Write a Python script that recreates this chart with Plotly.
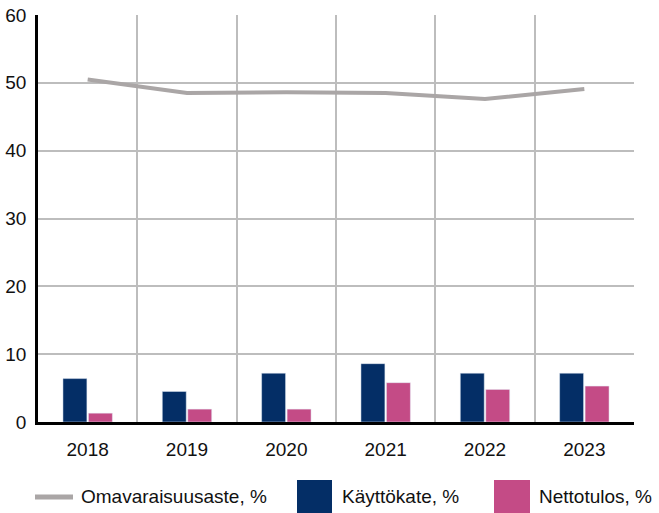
import plotly.graph_objects as go

years = ["2018", "2019", "2020", "2021", "2022", "2023"]
omavaraisuusaste = [50.5, 48.5, 48.6, 48.5, 47.6, 49.1]
kayttokate = [6.4, 4.5, 7.2, 8.6, 7.2, 7.2]
nettotulos = [1.3, 1.9, 1.9, 5.8, 4.8, 5.3]

names = ["Omavaraisuusaste, %", "Käyttökate, %", "Nettotulos, %"]
c_line = "#aaa6a6"
c_k = "#042e66"
c_n = "#c44b86"
FONT = "Liberation Sans Narrow, Liberation Sans, Arial, sans-serif"

W, H = 659, 513
L, R, T, B = 38, 25, 15, 91
PW, PH = W - L - R, H - T - B

def px(x):  # window pixel -> paper x
    return (x - L) / PW

def py(y):  # window pixel -> paper y
    return (H - B - y) / PH

fig = go.Figure()
fig.add_trace(go.Bar(x=years, y=kayttokate, name=names[1], marker_color=c_k, showlegend=False))
fig.add_trace(go.Bar(x=years, y=nettotulos, name=names[2], marker_color=c_n, showlegend=False))
fig.add_trace(go.Scatter(x=years, y=omavaraisuusaste, name=names[0], mode="lines",
                         line=dict(color=c_line, width=4), showlegend=False))

fig.update_layout(
    width=W, height=H,
    margin=dict(l=L, r=R, t=T, b=B),
    plot_bgcolor="white", paper_bgcolor="white",
    barmode="group", bargap=0.487, bargroupgap=0.06,
    font=dict(family=FONT, size=19, color="#111111"),
)
fig.update_xaxes(type="category", range=[-0.5, 5.5], tickson="boundaries",
                 showgrid=True, gridcolor="#bdbdbd", gridwidth=1.5,
                 showline=True, linecolor="black", linewidth=2.5,
                 ticks="", ticklabelstandoff=8, automargin=False)
fig.update_yaxes(range=[0, 60], dtick=10, showgrid=True, gridcolor="#bdbdbd", gridwidth=1.5,
                 showline=True, linecolor="black", linewidth=2.5, zeroline=False,
                 ticks="", ticklabelstandoff=5, automargin=False)

# legend drawn manually (window pixel positions converted to paper coords)
ly = 497
fig.add_shape(type="line", xref="paper", yref="paper", x0=px(35), x1=px(73), y0=py(ly), y1=py(ly),
              line=dict(color=c_line, width=5))
fig.add_shape(type="rect", xref="paper", yref="paper", x0=px(297), x1=px(332), y0=py(514), y1=py(480),
              fillcolor=c_k, line=dict(width=0))
fig.add_shape(type="rect", xref="paper", yref="paper", x0=px(494), x1=px(530), y0=py(514), y1=py(480),
              fillcolor=c_n, line=dict(width=0))
for xpos, txt in [(79, names[0]), (340, names[1]), (537, names[2])]:
    fig.add_annotation(x=px(xpos), y=py(ly), xref="paper", yref="paper", text=txt, showarrow=False,
                       xanchor="left", yanchor="middle", font=dict(size=19))

fig.write_html("out.html", config={"displayModeBar": False},
               post_script="document.body.style.margin='0';")
